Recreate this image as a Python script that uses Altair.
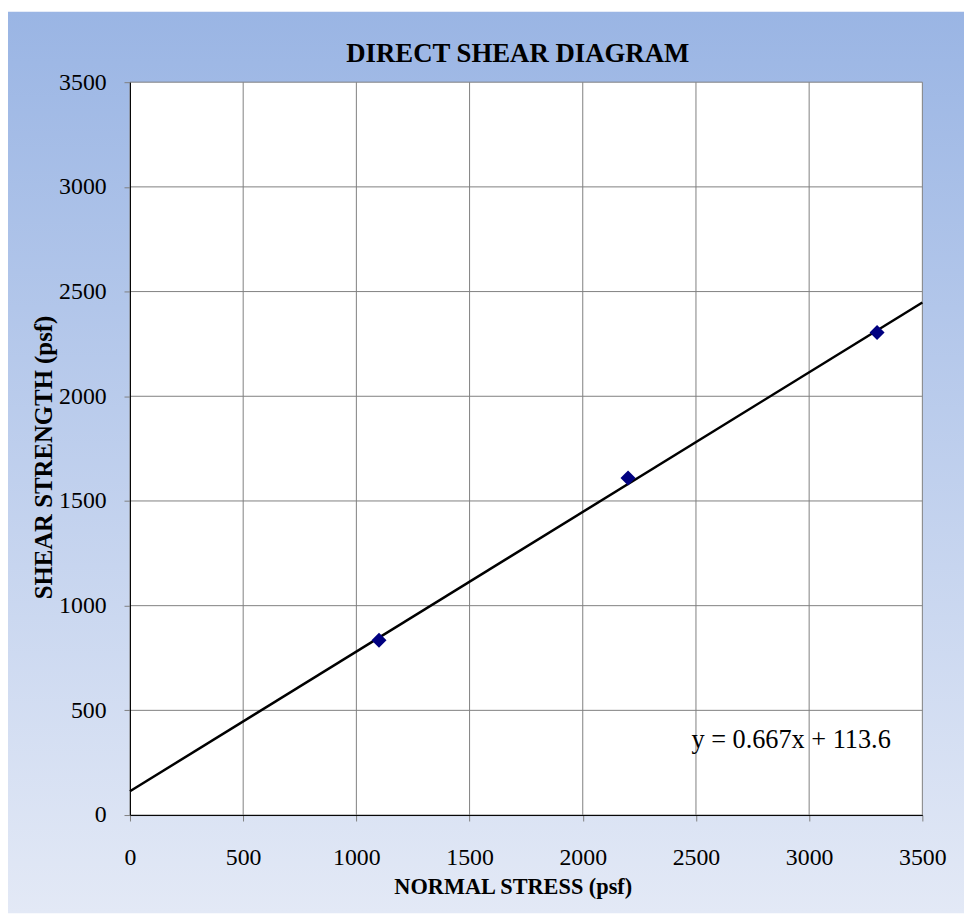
import altair as alt
import pandas as pd

normal_stress = [1100, 2200, 3300]
shear_strength = [835, 1610, 2305]

trend_x = [0, 3500]
trend_y = [113.6, 2448.1]

eq_label = ["y = 0.667x + 113.6"]
eq_x = [2480]
eq_y = [357]

ticks = [0, 500, 1000, 1500, 2000, 2500, 3000, 3500]

W, H = 799, 739
PL, PT, PR, PB = 123, 71, 42, 99

pts = pd.DataFrame({"x": normal_stress, "y": shear_strength})
trend = pd.DataFrame({"x": trend_x, "y": trend_y})
eq = pd.DataFrame({"x": eq_x, "y": eq_y, "t": eq_label})
grid = pd.DataFrame({"v": ticks})

FONT = "Liberation Serif"

xscale = alt.Scale(domain=[0, 3500], nice=False)
yscale = alt.Scale(domain=[0, 3500], nice=False)

bg = alt.Chart(pd.DataFrame({"a": [0]})).mark_rect(
    clip=False,
    color=alt.Gradient(
        gradient="linear",
        stops=[alt.GradientStop(color="#9ab5e4", offset=0),
               alt.GradientStop(color="#e3e9f6", offset=1)],
        x1=0, x2=0, y1=0, y2=1,
    ),
).encode(
    x=alt.value(-PL), x2=alt.value(W + PR),
    y=alt.value(-PT), y2=alt.value(H + PB),
)

plotbg = alt.Chart(pd.DataFrame({"a": [0]})).mark_rect(color="white").encode(
    x=alt.value(0), x2=alt.value(W), y=alt.value(0), y2=alt.value(H)
)

vgrid = alt.Chart(grid).mark_rule(color="#808080", strokeWidth=1).encode(
    x=alt.X("v:Q", scale=xscale))
hgrid = alt.Chart(grid).mark_rule(color="#808080", strokeWidth=1).encode(
    y=alt.Y("v:Q", scale=yscale))

base_x = alt.X("x:Q", scale=xscale,
               axis=alt.Axis(values=ticks, format="d", title="NORMAL STRESS (psf)",
                             grid=False, zindex=1, domainColor="#000000",
                             tickColor="#808080", tickSize=6, labelPadding=25,
                             labelFontSize=24, labelFont=FONT, labelColor="black",
                             titleFont=FONT, titleFontSize=22.5, titleFontWeight="bold",
                             titleColor="black", titlePadding=6, labelFlush=False,
                             titleX=386))
base_y = alt.Y("y:Q", scale=yscale,
               axis=alt.Axis(values=ticks, format="d", title="SHEAR STRENGTH (psf)",
                             grid=False, zindex=1, domainColor="#000000",
                             tickColor="#808080", tickSize=6, labelPadding=18,
                             labelFontSize=24, labelFont=FONT, labelColor="black",
                             titleFont=FONT, titleFontSize=25, titleFontWeight="bold",
                             titleColor="black", titlePadding=2, labelFlush=False,
                             titleY=378))

line = alt.Chart(trend).mark_line(color="black", strokeWidth=2.5).encode(x=base_x, y=base_y)

points = alt.Chart(pts).mark_point(shape="diamond", filled=True, color="#000080",
                                   size=230, opacity=1).encode(
    x=alt.X("x:Q", scale=xscale), y=alt.Y("y:Q", scale=yscale))

text = alt.Chart(eq).mark_text(align="left", baseline="middle", font=FONT,
                               fontSize=26.5, color="black").encode(
    x=alt.X("x:Q", scale=xscale), y=alt.Y("y:Q", scale=yscale), text="t:N")

chart = alt.layer(bg, plotbg, vgrid, hgrid, line, points, text).properties(
    width=W, height=H,
    title=alt.TitleParams("DIRECT SHEAR DIAGRAM", font=FONT, fontSize=27,
                          fontWeight="bold", color="black", anchor="middle",
                          frame="group", offset=0, dy=57, dx=-8.5),
    autosize=alt.AutoSizeParams(type="none"),
    padding={"left": PL, "top": PT, "right": PR, "bottom": PB},
).configure_view(stroke="#404040", strokeWidth=1).configure(background="white")

chart.save("out.html", embed_options={"renderer": "svg", "actions": False})
